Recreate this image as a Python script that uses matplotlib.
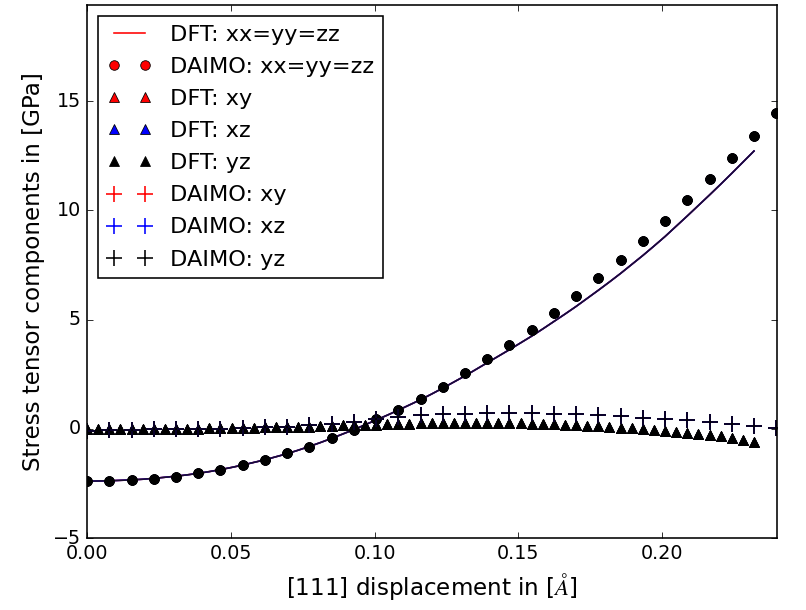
import numpy as np
import matplotlib
matplotlib.use('Agg')
import matplotlib.pyplot as plt

plt.style.use('classic')

# DFT grid: 61 points up to 0.232 A, DAIMO grid: every second DFT point
x_dft = np.linspace(0.0, 0.232, 61)
x_daimo = np.linspace(0.0, 0.232, 31)
x_daimo = np.append(x_daimo, 0.2397)

# diagonal stress (xx=yy=zz), DFT
dft_diag = [-2.40, -2.39, -2.38, -2.36, -2.34, -2.31, -2.27, -2.22, -2.17, -2.11,
            -2.04, -1.96, -1.87, -1.77, -1.66, -1.54, -1.42, -1.28, -1.14, -0.98,
            -0.81, -0.63, -0.44, -0.24, -0.04, 0.18, 0.40, 0.62, 0.85, 1.09,
            1.33, 1.59, 1.86, 2.14, 2.42, 2.72, 3.02, 3.32, 3.62, 3.93,
            4.24, 4.57, 4.91, 5.25, 5.60, 5.97, 6.34, 6.72, 7.11, 7.52,
            7.93, 8.36, 8.80, 9.27, 9.74, 10.22, 10.70, 11.19, 11.69, 12.20,
            12.71]

# off-diagonal stress (xy=xz=yz), DFT
dft_off = [-0.03, -0.03, -0.03, -0.02, -0.02, -0.02, -0.01, -0.01, 0.00, 0.00,
           0.01, 0.02, 0.02, 0.03, 0.04, 0.05, 0.06, 0.07, 0.08, 0.09,
           0.10, 0.12, 0.13, 0.15, 0.16, 0.18, 0.19, 0.21, 0.22, 0.24,
           0.25, 0.26, 0.27, 0.27, 0.28, 0.28, 0.27, 0.27, 0.26, 0.25,
           0.23, 0.22, 0.20, 0.18, 0.16, 0.13, 0.11, 0.08, 0.05, 0.02,
           -0.01, -0.05, -0.09, -0.13, -0.18, -0.23, -0.29, -0.35, -0.42, -0.50,
           -0.60]

# DAIMO diagonal and off-diagonal
daimo_diag = [-2.38, -2.38, -2.36, -2.28, -2.20, -2.02, -1.88, -1.65, -1.44, -1.13,
              -0.82, -0.42, -0.04, 0.43, 0.86, 1.35, 1.93, 2.53, 3.20, 3.85,
              4.54, 5.30, 6.06, 6.90, 7.71, 8.59, 9.50, 10.45, 11.41, 12.40,
              13.42, 14.44]
daimo_off = [-0.08, -0.07, -0.05, -0.03, -0.02, 0.00, 0.01, 0.04, 0.06, 0.09,
             0.15, 0.21, 0.32, 0.44, 0.54, 0.61, 0.66, 0.68, 0.70, 0.70,
             0.70, 0.69, 0.66, 0.62, 0.57, 0.51, 0.45, 0.38, 0.30, 0.21,
             0.12, 0.02]

fig = plt.figure(figsize=(806 / 115.0, 610 / 115.0), dpi=115, facecolor='white')
ax = fig.add_axes([0.108, 0.118, 0.856, 0.874])

# xx, yy, zz drawn on top of each other
plt.plot(x_dft, dft_diag, 'r-', label="DFT: xx=yy=zz")
plt.plot(x_dft, dft_diag, 'b-', label='_nolegend_')
plt.plot(x_dft, dft_diag, '-', color='#1a0f2e', label='_nolegend_')
plt.plot(x_daimo, daimo_diag, 'ro', ms=6, label="DAIMO: xx=yy=zz")
plt.plot(x_daimo, daimo_diag, 'bo', ms=6, label='_nolegend_')
plt.plot(x_daimo, daimo_diag, 'ko', ms=6, label='_nolegend_')

plt.plot(x_dft, dft_off, 'r^', ms=6, label="DFT: xy")
plt.plot(x_dft, dft_off, 'b^', ms=6, label="DFT: xz")
plt.plot(x_dft, dft_off, 'k^', ms=6, label="DFT: yz")
plt.plot(x_daimo, daimo_off, 'r+', ms=10, mew=1, label="DAIMO: xy")
plt.plot(x_daimo, daimo_off, 'b+', ms=10, mew=1, label="DAIMO: xz")
plt.plot(x_daimo, daimo_off, 'k+', ms=10, mew=1, label="DAIMO: yz")

plt.xlim(0, 0.24)
plt.ylim(-5, 19.4)
plt.xticks([0.0, 0.05, 0.10, 0.15, 0.20])
plt.yticks([-5, 0, 5, 10, 15])
ax.tick_params(labelsize=12)

plt.xlabel(r"[111] displacement in [$\AA$]", fontsize=14.4)
plt.ylabel("Stress tensor components in [GPa]", fontsize=14.4)

plt.legend(loc='upper left', numpoints=2, fontsize=14, labelspacing=0.54)
plt.savefig('out.png', dpi=115, facecolor='white')
